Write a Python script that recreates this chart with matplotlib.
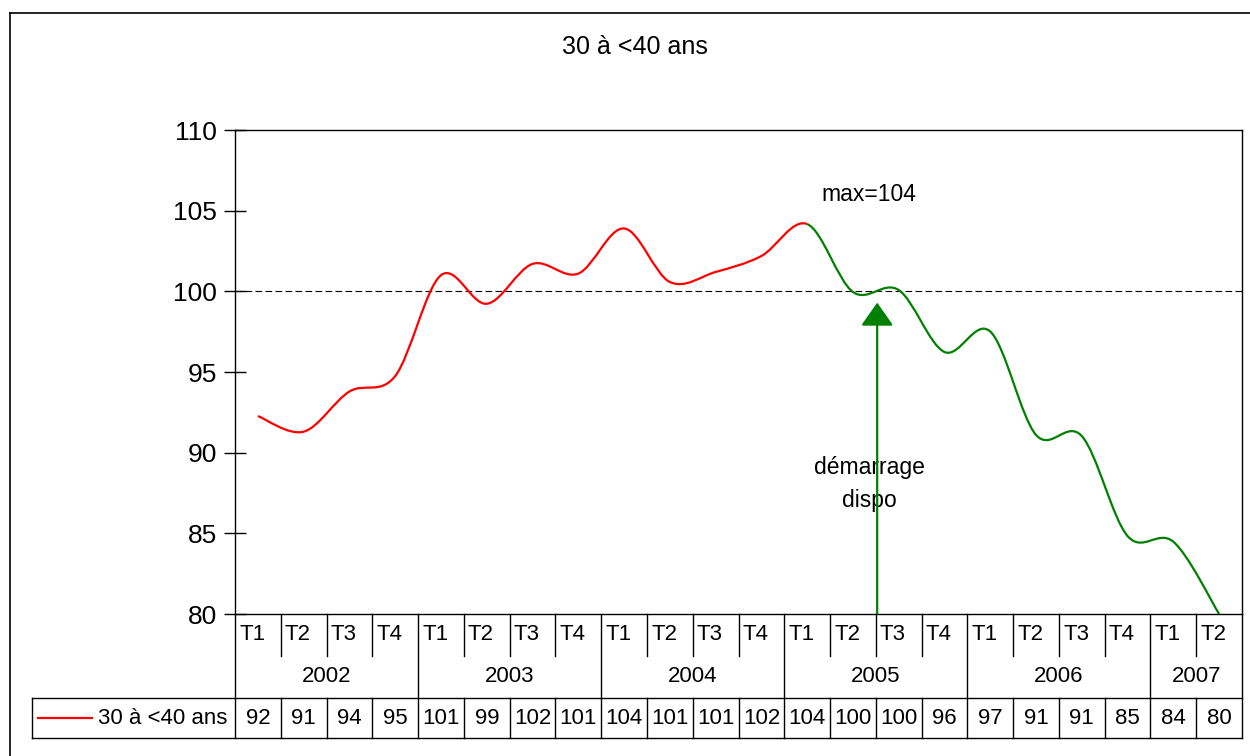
import matplotlib
matplotlib.use('Agg')
import matplotlib.pyplot as plt
from matplotlib.path import Path
from matplotlib.patches import PathPatch
from matplotlib.lines import Line2D

plt.rcParams['font.family'] = ['Liberation Sans', 'DejaVu Sans']

# data
TITLE     = '30 à <40 ans'
SERIES    = '30 à <40 ans'
QUARTERS  = ['T1', 'T2', 'T3', 'T4'] * 5 + ['T1', 'T2']
YEARS     = ['2002', '2003', '2004', '2005', '2006', '2007']
YEAR_LEN  = [4, 4, 4, 4, 4, 2]
VALUES    = [92.27, 91.30, 93.79, 94.75, 101.0, 99.23, 101.7, 101.1,
             103.9, 100.58, 101.2, 102.19, 104.17, 99.96, 100.08, 96.24,
             97.51, 91.10, 91.03, 84.83, 84.48, 80.0]
TABLE     = [92, 91, 94, 95, 101, 99, 102, 101, 104, 101, 101, 102,
             104, 100, 100, 96, 97, 91, 91, 85, 84, 80]
SPLIT     = 12          # index where the series turns green
ARROW_X   = 14.03       # "démarrage dispo" marker (category units)
ARROW_TIP = 99.3

W, H = 1250, 756
RED   = '#ff0000'
GREEN = '#008000'


def px(x, y, w, h):
    return [x / W, 1 - (y + h) / H, w / W, h / H]


def smooth_path(xs, ys, start, stop):
    # Excel-like smoothed line: cubic bezier, control points from neighbours
    n = len(xs)
    verts = [(xs[start], ys[start])]
    codes = [Path.MOVETO]
    for i in range(start, stop):
        p = max(i - 1, 0)
        q = min(i + 2, n - 1)
        c1 = (xs[i] + (xs[i + 1] - xs[p]) / 6, ys[i] + (ys[i + 1] - ys[p]) / 6)
        c2 = (xs[i + 1] - (xs[q] - xs[i]) / 6, ys[i + 1] - (ys[q] - ys[i]) / 6)
        verts += [c1, c2, (xs[i + 1], ys[i + 1])]
        codes += [Path.CURVE4] * 3
    return Path(verts, codes)


fig = plt.figure(figsize=(W / 100, H / 100), dpi=100)
fig.patch.set_facecolor('white')

# outer chart frame (cut at right / bottom like the reference)
fig.add_artist(Line2D([10 / W, 1], [1 - 12.5 / H, 1 - 12.5 / H],
                      transform=fig.transFigure, color='black', lw=1.2))
fig.add_artist(Line2D([10 / W, 10 / W], [0, 1 - 12.5 / H],
                      transform=fig.transFigure, color='black', lw=1.2))

fig.text(635 / W, 1 - 47 / H, TITLE, ha='center', va='center', fontsize=18)

ax = fig.add_axes(px(235, 130, 1007, 484))
n = len(VALUES)
xs = [i + 0.5 for i in range(n)]
ax.set_xlim(0, n)
ax.set_ylim(80, 110)
ax.set_yticks(range(80, 111, 5))
ax.set_xticks([])
ax.tick_params(axis='y', direction='inout', length=16, width=1,
               labelsize=19, pad=5)
for sp in ax.spines.values():
    sp.set_color('black')
    sp.set_linewidth(1)

ax.axhline(100, color='black', lw=0.8, ls=(0, (6, 3)), zorder=1)

red = smooth_path(xs, VALUES, 0, SPLIT)
green = smooth_path(xs, VALUES, SPLIT, n - 1)
ax.add_patch(PathPatch(red, fill=False, edgecolor=RED, lw=1.6, zorder=3))
ax.add_patch(PathPatch(green, fill=False, edgecolor=GREEN, lw=1.6, zorder=3))

ax.annotate('', xy=(ARROW_X, ARROW_TIP), xytext=(ARROW_X, 80),
            arrowprops=dict(arrowstyle='-|>,head_length=0.4,head_width=0.28',
                            color=GREEN, lw=1.6, mutation_scale=36,
                            shrinkA=0, shrinkB=0), zorder=4)

ax.text(13.85, 106.0, 'max=104', ha='center', va='center', fontsize=16.5)
ax.text(13.85, 88.05, 'démarrage\ndispo', ha='center', va='center',
        fontsize=16.5, linespacing=1.55)

# data table under the plot
tb = fig.add_axes(px(235, 614, 1007, 124))
tb.set_xlim(0, n)
tb.set_ylim(124, 0)
tb.axis('off')
cell = 1007 / n
lab_x = (32 - 235) / cell

bounds = [0]
for k in YEAR_LEN:
    bounds.append(bounds[-1] + k)

for b in range(n + 1):
    if b in bounds:
        tb.plot([b, b], [0, 124], color='black', lw=1, clip_on=False)
    else:
        tb.plot([b, b], [0, 42], color='black', lw=1, clip_on=False)
        tb.plot([b, b], [84, 124], color='black', lw=1, clip_on=False)

for yy in (84, 124):
    tb.plot([lab_x, n], [yy, yy], color='black', lw=1, clip_on=False)
tb.plot([lab_x, lab_x], [84, 124], color='black', lw=1, clip_on=False)

for i, (q, v) in enumerate(zip(QUARTERS, TABLE)):
    tb.text(i + 0.09, 20, q, ha='left', va='center', fontsize=16)
    tb.text(i + 0.5, 104, str(v), ha='center', va='center', fontsize=16)

for yr, a, b in zip(YEARS, bounds[:-1], bounds[1:]):
    tb.text((a + b) / 2, 63, yr, ha='center', va='center', fontsize=16)

tb.plot([(38 - 235) / cell, (92 - 235) / cell], [104, 104], color=RED,
        lw=1.6, clip_on=False)
tb.text((98 - 235) / cell, 104, SERIES, ha='left', va='center', fontsize=16)

fig.savefig('out.png', dpi=100, facecolor='white')
